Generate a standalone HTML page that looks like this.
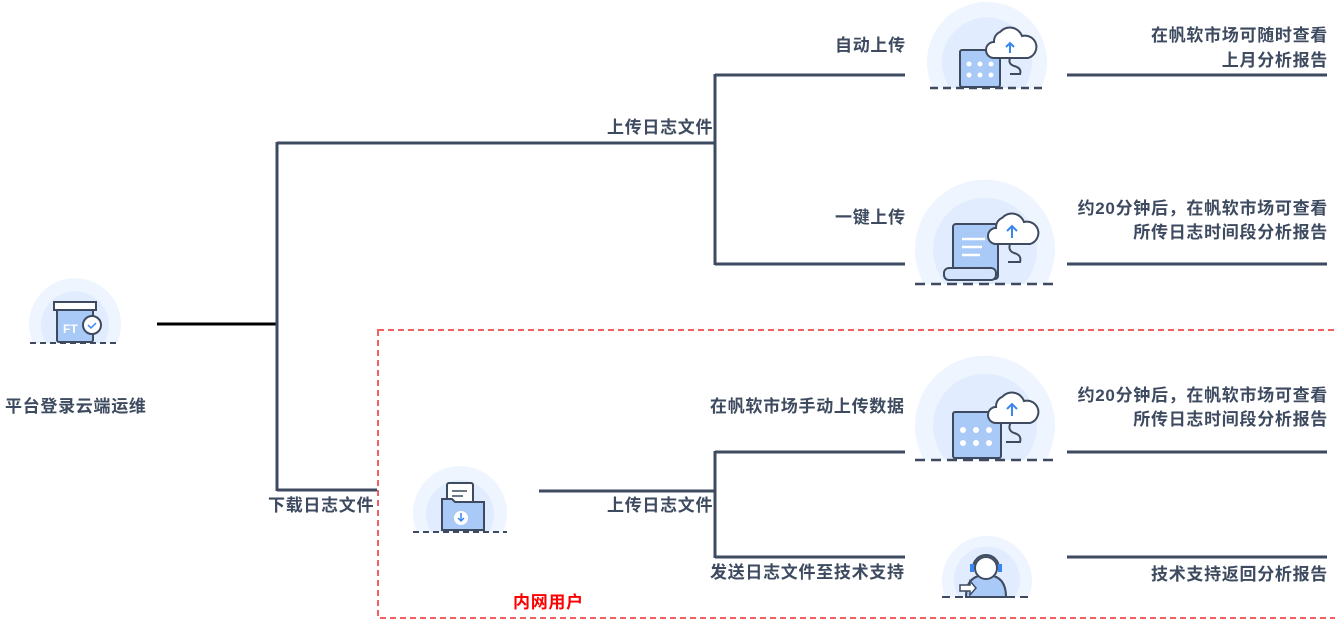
<!DOCTYPE html>
<html><head><meta charset="utf-8"><style>
body{margin:0;width:1335px;height:625px;background:#fff;position:relative;overflow:hidden;font-family:"Liberation Sans","Noto Sans CJK SC",sans-serif;}
.t{position:absolute;font-size:17px;letter-spacing:0.7px;font-weight:bold;color:#3d4a5f;white-space:nowrap;line-height:20px;}
.r{text-align:right;letter-spacing:0.7px;}
</style></head><body>
<svg width="1335" height="625" style="position:absolute;left:0;top:0">
<defs>
<g id="cloud"><path d="M-16 8 a8 8 0 0 1 0 -16 a10 10 0 0 1 6 -10 a13 13 0 0 1 22 4 a9 9 0 0 1 6 22 Z" fill="#fff" stroke="#3d4a5f" stroke-width="2"/></g>
</defs>
<g stroke="#3d4a5f" stroke-width="3" fill="none">
<line x1="157" y1="324" x2="277" y2="324" stroke="#000"/>
<line x1="277" y1="142" x2="277" y2="491"/>
<line x1="277" y1="143" x2="716" y2="143"/>
<line x1="715" y1="74" x2="715" y2="265"/>
<line x1="715" y1="75" x2="905" y2="75"/>
<line x1="715" y1="264" x2="905" y2="264"/>
<line x1="277" y1="490" x2="377" y2="490"/>
<line x1="539" y1="491" x2="716" y2="491"/>
<line x1="715" y1="451" x2="715" y2="558"/>
<line x1="715" y1="452" x2="905" y2="452"/>
<line x1="715" y1="557" x2="905" y2="557"/>
<line x1="1067" y1="75" x2="1327" y2="75"/>
<line x1="1067" y1="264" x2="1327" y2="264"/>
<line x1="1067" y1="452" x2="1327" y2="452"/>
<line x1="1067" y1="557" x2="1327" y2="557"/>
</g>
<rect x="378" y="330" width="960" height="288" fill="none" stroke="#f06060" stroke-width="2" stroke-dasharray="6,4"/>

<!-- root icon -->
<path d="M33 343 A46 46 0 1 1 117 343 Z" fill="#eef5ff"/><path d="M46 343 A34 34 0 1 1 104 343 Z" fill="#e1edfe"/>
<line x1="30" y1="343" x2="120" y2="343" stroke="#3d4a5f" stroke-width="2" stroke-dasharray="6,4"/>
<rect x="57" y="306" width="36" height="36" rx="2" fill="#a9c9f7" stroke="#3d4a5f" stroke-width="2"/>
<rect x="54" y="302" width="42" height="8" fill="#fff" stroke="#3d4a5f" stroke-width="2"/>
<text x="63" y="333" font-size="12" font-weight="bold" fill="#fff" font-family="Liberation Sans">FT</text>
<circle cx="92" cy="325" r="9" fill="#fff" stroke="#3d4a5f" stroke-width="2"/>
<path d="M88 325 l3 3 l5 -5" stroke="#3a86f0" stroke-width="1.5" fill="none"/>

<!-- icon1 -->
<path d="M933 88 A60 60 0 1 1 1041 88 Z" fill="#eef5ff"/><path d="M950 88 A45 45 0 1 1 1024 88 Z" fill="#e1edfe"/>
<line x1="930" y1="88" x2="1045" y2="88" stroke="#3d4a5f" stroke-width="2.5" stroke-dasharray="8,5"/>
<rect x="960" y="50" width="40" height="37" rx="2" fill="#a9c9f7" stroke="#3d4a5f" stroke-width="2"/>
<g fill="#fff"><circle cx="969" cy="64" r="2.5"/><circle cx="980" cy="64" r="2.5"/><circle cx="991" cy="64" r="2.5"/><circle cx="969" cy="75" r="2.5"/><circle cx="980" cy="75" r="2.5"/><circle cx="991" cy="75" r="2.5"/></g>
<path d="M1012 55 q-6 8 2 11 q8 2 6 8 h-10" stroke="#3d4a5f" stroke-width="2" fill="none"/>
<use href="#cloud" x="1010" y="50"/>
<path d="M1010 53 v-10 m-4 4 l4 -4 l4 4" stroke="#3a86f0" stroke-width="2" fill="none"/>

<!-- icon2 -->
<path d="M924 284 A70 70 0 1 1 1046 284 Z" fill="#eef5ff"/><path d="M946 284 A52 52 0 1 1 1024 284 Z" fill="#e1edfe"/>
<line x1="915" y1="284" x2="1055" y2="284" stroke="#3d4a5f" stroke-width="2.5" stroke-dasharray="10,6"/>
<rect x="953" y="224" width="45" height="55" rx="3" fill="#a9c9f7" stroke="#3d4a5f" stroke-width="2"/>
<g stroke="#fff" stroke-width="2.5"><line x1="962" y1="239" x2="985" y2="239"/><line x1="962" y1="247" x2="982" y2="247"/><line x1="962" y1="255" x2="980" y2="255"/></g>
<rect x="944" y="268" width="52" height="12" rx="5" fill="#d2e3fb" stroke="#3d4a5f" stroke-width="2"/>
<path d="M1012 240 q-6 10 2 13 q8 2 6 9 h-12" stroke="#3d4a5f" stroke-width="2" fill="none"/>
<use href="#cloud" x="1012" y="236"/>
<path d="M1012 238 v-12 m-5 5 l5 -5 l5 5" stroke="#3a86f0" stroke-width="2" fill="none"/>

<!-- icon3 -->
<path d="M924 460 A70 70 0 1 1 1046 460 Z" fill="#eef5ff"/><path d="M946 460 A52 52 0 1 1 1024 460 Z" fill="#e1edfe"/>
<line x1="915" y1="460" x2="1055" y2="460" stroke="#3d4a5f" stroke-width="2.5" stroke-dasharray="10,6"/>
<rect x="953" y="412" width="48" height="46" rx="2" fill="#a9c9f7" stroke="#3d4a5f" stroke-width="2"/>
<g fill="#fff"><circle cx="963" cy="430" r="3"/><circle cx="976" cy="430" r="3"/><circle cx="989" cy="430" r="3"/><circle cx="963" cy="443" r="3"/><circle cx="976" cy="443" r="3"/><circle cx="989" cy="443" r="3"/></g>
<path d="M1012 420 q-6 10 2 13 q8 2 6 9 h-14" stroke="#3d4a5f" stroke-width="2" fill="none"/>
<use href="#cloud" x="1012" y="415"/>
<path d="M1012 416 v-12 m-5 5 l5 -5 l5 5" stroke="#3a86f0" stroke-width="2" fill="none"/>

<!-- icon4 -->
<path d="M945 597 A45 45 0 1 1 1029 597 Z" fill="#eef5ff"/><path d="M959 597 A33 33 0 1 1 1015 597 Z" fill="#e1edfe"/>
<line x1="942" y1="597" x2="1032" y2="597" stroke="#3d4a5f" stroke-width="2" stroke-dasharray="8,5"/>
<path d="M966 597 q0 -22 20 -22 q20 0 20 22 Z" fill="#a9c9f7" stroke="#3d4a5f" stroke-width="2"/>
<circle cx="986" cy="568" r="11" fill="#fff" stroke="#3d4a5f" stroke-width="2"/>
<path d="M973 568 a13 13 0 0 1 26 0" stroke="#3d4a5f" stroke-width="2" fill="none"/>
<rect x="970" y="564" width="4" height="8" fill="#3a86f0"/><rect x="998" y="564" width="4" height="8" fill="#3a86f0"/>
<path d="M960 585 h10 v-4 l6 7 l-6 7 v-4 h-10 z" fill="#fff" stroke="#3d4a5f" stroke-width="1.5"/>

<!-- folder -->
<path d="M417 532 A47 47 0 1 1 503 532 Z" fill="#eef5ff"/><path d="M431 532 A34 34 0 1 1 489 532 Z" fill="#e1edfe"/>
<line x1="413" y1="532" x2="507" y2="532" stroke="#3d4a5f" stroke-width="2" stroke-dasharray="6,4"/>
<rect x="447" y="483" width="26" height="24" rx="2" fill="#fff" stroke="#3d4a5f" stroke-width="2"/>
<g stroke="#3d4a5f" stroke-width="1.5"><line x1="452" y1="491" x2="467" y2="491"/><line x1="452" y1="496" x2="463" y2="496"/></g>
<path d="M442 499 h10 l3 3 h29 v28 h-42 z" fill="#a9c9f7" stroke="#3d4a5f" stroke-width="2"/>
<circle cx="461" cy="518" r="7" fill="#fff"/>
<path d="M461 513 v8 m-3 -3 l3 3 l3 -3" stroke="#3a86f0" stroke-width="1.5" fill="none"/>
</svg>
<div class="t" style="left:5px;top:397px">平台登录云端运维</div>
<div class="t" style="left:607px;top:118px">上传日志文件</div>
<div class="t" style="left:835px;top:36px">自动上传</div>
<div class="t" style="left:835px;top:208px">一键上传</div>
<div class="t r" style="right:7px;top:23px;line-height:25px">在帆软市场可随时查看<br>上月分析报告</div>
<div class="t r" style="right:7px;top:197px;line-height:24px">约20分钟后，在帆软市场可查看<br>所传日志时间段分析报告</div>
<div class="t r" style="right:7px;top:384px;line-height:24px">约20分钟后，在帆软市场可查看<br>所传日志时间段分析报告</div>
<div class="t r" style="right:7px;top:565px">技术支持返回分析报告</div>
<div class="t" style="left:268px;top:496px">下载日志文件</div>
<div class="t" style="left:607px;top:496px">上传日志文件</div>
<div class="t" style="left:710px;top:397px">在帆软市场手动上传数据</div>
<div class="t" style="left:710px;top:563px">发送日志文件至技术支持</div>
<div class="t" style="left:513px;top:593px;color:#ff0000">内网用户</div>
</body></html>
